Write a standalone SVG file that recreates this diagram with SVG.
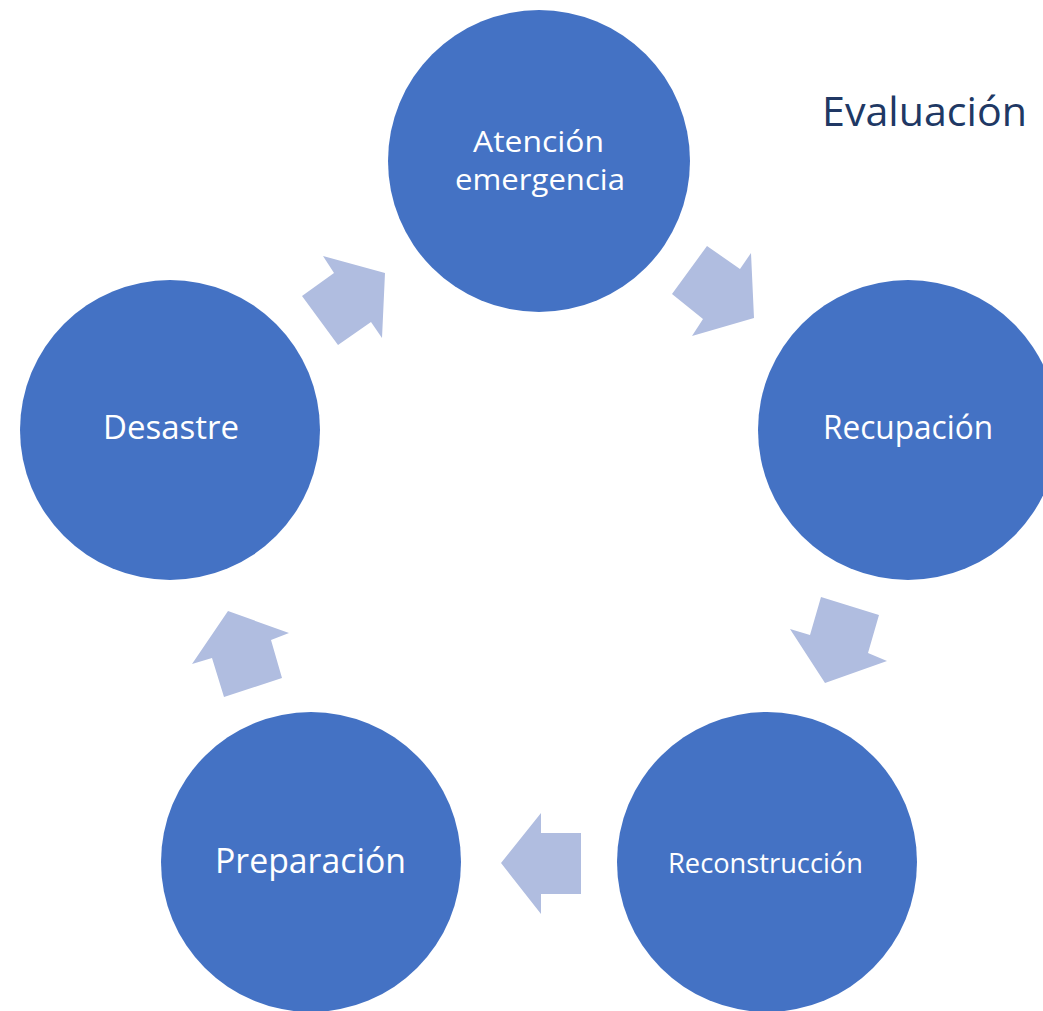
<svg xmlns="http://www.w3.org/2000/svg" width="1043" height="1011" viewBox="0 0 1043 1011">
<style>
.node{fill:#4472C4;}
.lbl{fill:#FFFFFF;font-family:"Open Sans","Liberation Sans",sans-serif;text-anchor:middle;}
.arr{fill:#B0BDE0;}
.title{fill:#203864;font-family:"Open Sans","Liberation Sans",sans-serif;}
</style>
<rect width="1043" height="1011" fill="#FFFFFF"/>
<g id="connectors">
<polygon class="arr" points="302,296 334,273 323,256 385,273 382,338 371,322 338,345"/>
<polygon class="arr" points="707,246 740,269 751,253 754,318 692,336 703,319 672,294"/>
<polygon class="arr" points="821,597 879,615 868,653 887,661 825,683 790,629 810,635"/>
<polygon class="arr" points="581,833 581,894 541,894 541,914 501,863 541,813 541,833"/>
<polygon class="arr" points="228,611 289,633 271,640 282,678 224,697 212,658 192,664"/>
</g>
<g id="atencion">
<circle class="node" cx="539" cy="161" r="151"/>
<text class="lbl" x="538.5" y="152" font-size="30" textLength="131" lengthAdjust="spacingAndGlyphs">Atención</text>
<text class="lbl" x="540" y="190" font-size="30" textLength="170" lengthAdjust="spacingAndGlyphs">emergencia</text>
</g>
<g id="recuperacion">
<circle class="node" cx="908" cy="430" r="150"/>
<text class="lbl" x="908" y="439" font-size="33" textLength="170" lengthAdjust="spacingAndGlyphs">Recupación</text>
</g>
<g id="reconstruccion">
<circle class="node" cx="767" cy="862" r="150"/>
<text class="lbl" x="765.5" y="873" font-size="27" textLength="195" lengthAdjust="spacingAndGlyphs">Reconstrucción</text>
</g>
<g id="preparacion">
<circle class="node" cx="311" cy="862" r="150"/>
<text class="lbl" x="310.5" y="873" font-size="34" textLength="191" lengthAdjust="spacingAndGlyphs">Preparación</text>
</g>
<g id="desastre">
<circle class="node" cx="170" cy="430" r="150"/>
<text class="lbl" x="171" y="439" font-size="33" textLength="136" lengthAdjust="spacingAndGlyphs">Desastre</text>
</g>
<g id="evaluacion">
<text class="title" x="822" y="126" font-size="41" textLength="205" lengthAdjust="spacingAndGlyphs">Evaluación</text>
</g>
</svg>
